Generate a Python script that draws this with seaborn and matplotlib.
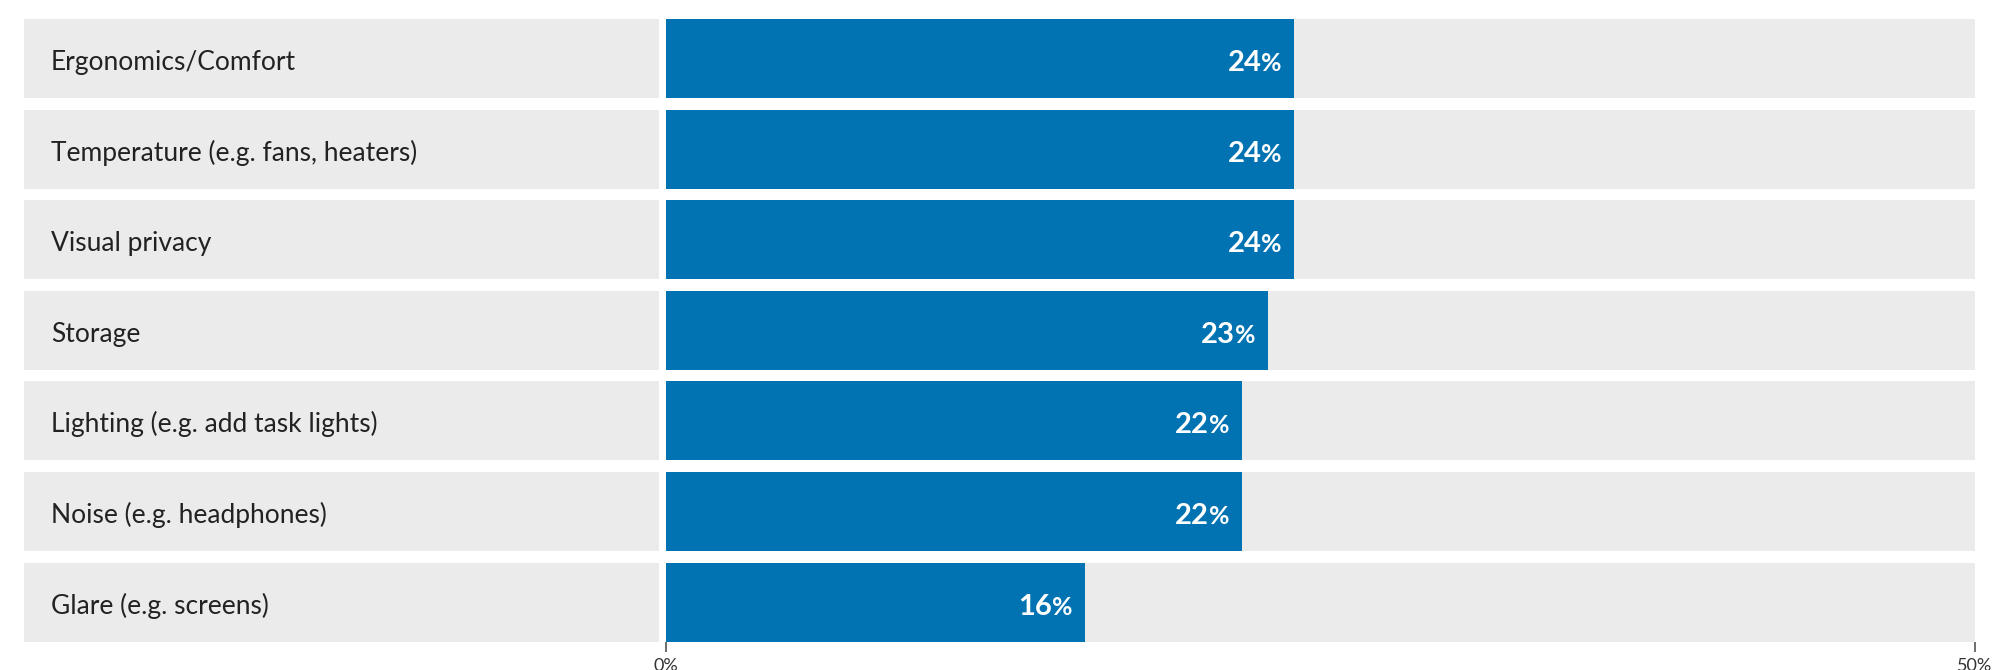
import numpy as np
import pandas as pd
import matplotlib
matplotlib.use("Agg")
import matplotlib.pyplot as plt
import seaborn as sns

# data
categories = ["Ergonomics/Comfort", "Temperature (e.g. fans, heaters)", "Visual privacy",
              "Storage", "Lighting (e.g. add task lights)", "Noise (e.g. headphones)",
              "Glare (e.g. screens)"]
shares = [24, 24, 24, 23, 22, 22, 16]
axis_max = 50
tick_values = [0, 50]
tick_labels = ["0%", "50%"]

BLUE = "#0173B2"
GREY = "#EBEBEB"

sns.set_theme(style="white")
plt.rcParams["font.family"] = ["Lato", "DejaVu Sans"]

df = pd.DataFrame({"category": categories, "share": shares})
df["full"] = axis_max
df["label_bg"] = 1

fig = plt.figure(figsize=(20, 6.7), dpi=100)
bottom, top = 0.0424, 0.9716
ax_lab = fig.add_axes([0.012, bottom, 0.3297 - 0.012, top - bottom])
ax = fig.add_axes([0.333, bottom, 0.9875 - 0.333, top - bottom])

w = 0.873
sns.barplot(data=df, x="label_bg", y="category", color=GREY, width=w,
            saturation=1, ax=ax_lab, edgecolor="none")
sns.barplot(data=df, x="full", y="category", color=GREY, width=w,
            saturation=1, ax=ax, edgecolor="none")
sns.barplot(data=df, x="share", y="category", color=BLUE, width=w,
            saturation=1, ax=ax, edgecolor="none")

n = len(categories)
for a in (ax_lab, ax):
    a.set_ylim(n - 1 + w / 2, -w / 2)
    a.set_ylabel("")
    a.set_xlabel("")
    a.set_yticks([])
    for s in a.spines.values():
        s.set_visible(False)

ax_lab.set_xlim(0, 1)
ax_lab.set_xticks([])
for i, c in enumerate(categories):
    ax_lab.annotate(c, xy=(0.0425, i), xytext=(0, -8.3), textcoords="offset points",
                    ha="left", va="baseline", fontsize=19, color="#222222")

ax.set_xlim(0, axis_max)
ax.set_xticks(tick_values)
ax.set_xticklabels(tick_labels, fontsize=13, color="#333333")
ax.tick_params(axis="x", bottom=True, length=7, width=1.2, color="#555555", pad=5)

# value labels: big digits, smaller percent sign
renderer = fig.canvas.get_renderer()
for i, v in enumerate(shares):
    pct = ax.annotate("%", xy=(v, i), xytext=(-9, -9), textcoords="offset points",
                      ha="right", va="baseline", color="white", fontsize=18,
                      fontweight="bold")
    wpt = pct.get_window_extent(renderer).width * 72 / fig.dpi
    ax.annotate(str(v), xy=(v, i), xytext=(-9 - wpt, -9), textcoords="offset points",
                ha="right", va="baseline", color="white", fontsize=21,
                fontweight="bold")

fig.savefig("out.png", dpi=100)
